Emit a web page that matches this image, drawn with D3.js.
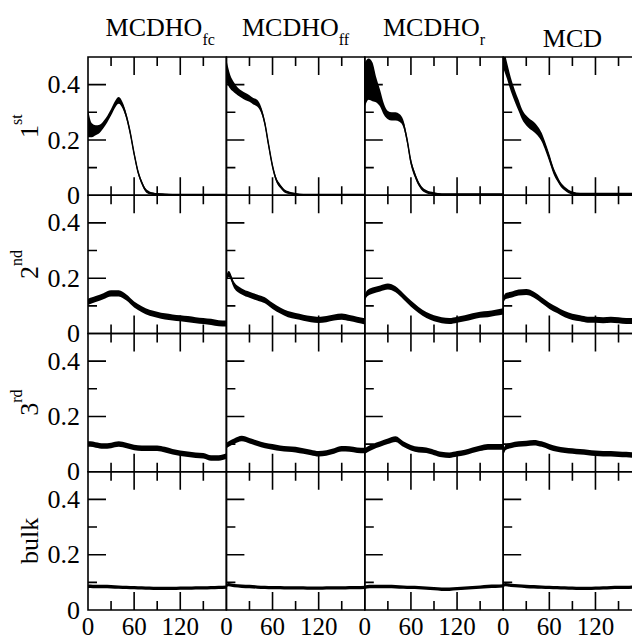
<!DOCTYPE html>
<html>
<head>
<meta charset="utf-8">
<script src="https://cdn.jsdelivr.net/npm/d3@7"></script>
<style>
  body { margin: 0; background: #fff; }
  text { font-family: "Liberation Serif", "DejaVu Serif", serif; fill: #000; }
</style>
</head>
<body>
<div id="chart"></div>
<script>
// Column titles (main text + subscript) and row labels (main + superscript)
const colTitles = [["MCDHO", "fc"], ["MCDHO", "ff"], ["MCDHO", "r"], ["MCD", ""]];
const rowLabels = [["1", "st"], ["2", "nd"], ["3", "rd"], ["bulk", ""]];

// time grids
const timeFine = [0, 5, 10, 15, 20, 25, 30, 35, 40, 45, 50, 55, 60, 65, 70, 75, 80, 90, 100, 110, 120, 130, 140, 150, 160, 170, 180];
const timeCoarse = [0, 3, 10, 20, 30, 40, 50, 60, 70, 80, 90, 100, 110, 120, 130, 140, 150, 160, 170, 180];

// 1st shell (fine grid) : centre values and half-width of the noise band
const first_fc  = [0.26, 0.235, 0.235, 0.24, 0.255, 0.275, 0.3, 0.328, 0.343, 0.325, 0.285, 0.225, 0.15, 0.085, 0.045, 0.018, 0.009, 0.004, 0.003, 0.002, 0.002, 0.002, 0.002, 0.002, 0.002, 0.002, 0.002];
const first_ff  = [0.45, 0.41, 0.39, 0.375, 0.365, 0.357, 0.35, 0.34, 0.333, 0.31, 0.26, 0.18, 0.105, 0.055, 0.033, 0.017, 0.01, 0.004, 0.002, 0.002, 0.002, 0.002, 0.002, 0.002, 0.002, 0.002, 0.002];
const first_r   = [0.4, 0.42, 0.41, 0.38, 0.35, 0.31, 0.29, 0.285, 0.285, 0.28, 0.26, 0.2, 0.12, 0.075, 0.042, 0.022, 0.013, 0.006, 0.003, 0.003, 0.003, 0.003, 0.003, 0.003, 0.003, 0.003, 0.003];
const first_mcd = [0.5, 0.45, 0.4, 0.36, 0.325, 0.29, 0.27, 0.257, 0.247, 0.232, 0.21, 0.175, 0.135, 0.092, 0.062, 0.038, 0.024, 0.008, 0.004, 0.004, 0.004, 0.004, 0.004, 0.004, 0.004, 0.004, 0.004];

const spread_fc  = [0.05, 0.025, 0.018, 0.015, 0.013, 0.012, 0.012, 0.012, 0.012, 0.011, 0.01, 0.01, 0.009, 0.008, 0.007, 0.006, 0.005, 0.004, 0.003, 0.003, 0.003, 0.003, 0.003, 0.003, 0.003, 0.003, 0.003];
const spread_ff  = [0.04, 0.025, 0.018, 0.014, 0.013, 0.013, 0.012, 0.012, 0.012, 0.011, 0.01, 0.01, 0.009, 0.008, 0.007, 0.006, 0.005, 0.004, 0.003, 0.003, 0.003, 0.003, 0.003, 0.003, 0.003, 0.003, 0.003];
const spread_r   = [0.08, 0.075, 0.07, 0.045, 0.03, 0.02, 0.015, 0.015, 0.015, 0.014, 0.013, 0.012, 0.012, 0.01, 0.008, 0.007, 0.006, 0.005, 0.004, 0.004, 0.004, 0.004, 0.004, 0.004, 0.004, 0.004, 0.004];
const spread_mcd = [0.04, 0.03, 0.025, 0.022, 0.02, 0.018, 0.018, 0.018, 0.018, 0.017, 0.016, 0.015, 0.014, 0.012, 0.01, 0.008, 0.007, 0.006, 0.005, 0.005, 0.005, 0.005, 0.005, 0.005, 0.005, 0.005, 0.005];

// 2nd shell (coarse grid)
const second_fc  = [0.115, 0.118, 0.125, 0.135, 0.145, 0.145, 0.13, 0.105, 0.088, 0.075, 0.068, 0.062, 0.058, 0.055, 0.052, 0.048, 0.045, 0.042, 0.037, 0.036];
const second_ff  = [0.2, 0.215, 0.175, 0.152, 0.14, 0.13, 0.12, 0.1, 0.083, 0.07, 0.063, 0.057, 0.052, 0.049, 0.052, 0.058, 0.061, 0.056, 0.05, 0.044];
const second_r   = [0.13, 0.145, 0.155, 0.163, 0.17, 0.16, 0.135, 0.108, 0.085, 0.067, 0.055, 0.048, 0.045, 0.05, 0.055, 0.062, 0.068, 0.07, 0.075, 0.08];
const second_mcd = [0.12, 0.135, 0.14, 0.148, 0.15, 0.14, 0.12, 0.1, 0.085, 0.07, 0.06, 0.055, 0.05, 0.05, 0.048, 0.05, 0.048, 0.045, 0.045, 0.045];

// 3rd shell
const third_fc  = [0.1, 0.1, 0.097, 0.093, 0.095, 0.1, 0.095, 0.088, 0.085, 0.085, 0.085, 0.08, 0.072, 0.067, 0.063, 0.06, 0.058, 0.05, 0.05, 0.057];
const third_ff  = [0.095, 0.1, 0.11, 0.12, 0.112, 0.103, 0.095, 0.09, 0.085, 0.082, 0.08, 0.075, 0.07, 0.065, 0.068, 0.075, 0.083, 0.082, 0.078, 0.077];
const third_r   = [0.075, 0.08, 0.09, 0.1, 0.11, 0.118, 0.1, 0.087, 0.08, 0.078, 0.07, 0.062, 0.06, 0.065, 0.07, 0.078, 0.085, 0.09, 0.09, 0.09];
const third_mcd = [0.068, 0.088, 0.095, 0.1, 0.102, 0.105, 0.1, 0.09, 0.082, 0.078, 0.075, 0.072, 0.07, 0.067, 0.065, 0.065, 0.063, 0.062, 0.06, 0.06];

// bulk
const bulk_fc  = [0.085, 0.086, 0.085, 0.085, 0.084, 0.083, 0.082, 0.081, 0.08, 0.079, 0.078, 0.078, 0.078, 0.079, 0.079, 0.08, 0.08, 0.081, 0.082, 0.083];
const bulk_ff  = [0.088, 0.092, 0.088, 0.086, 0.085, 0.083, 0.082, 0.081, 0.081, 0.08, 0.08, 0.08, 0.079, 0.079, 0.08, 0.08, 0.08, 0.081, 0.081, 0.082];
const bulk_r   = [0.082, 0.084, 0.085, 0.085, 0.085, 0.084, 0.083, 0.082, 0.081, 0.079, 0.077, 0.075, 0.075, 0.077, 0.079, 0.081, 0.083, 0.085, 0.086, 0.087];
const bulk_mcd = [0.088, 0.092, 0.089, 0.087, 0.085, 0.084, 0.083, 0.082, 0.081, 0.08, 0.079, 0.078, 0.078, 0.079, 0.08, 0.081, 0.082, 0.082, 0.083, 0.083];

// noise half-width for the rows that use one value
const rowSpread = [null, 0.011, 0.01, 0.006];

const yTicks = [0, 0.2, 0.4], yMinor = [0.1, 0.3];
const xTicks = [0, 60, 120, 180], xMinor = [30, 90, 150];
const xLabels = [0, 60, 120];

// build panel table
const rowSeries = [
  [first_fc, first_ff, first_r, first_mcd],
  [second_fc, second_ff, second_r, second_mcd],
  [third_fc, third_ff, third_r, third_mcd],
  [bulk_fc, bulk_ff, bulk_r, bulk_mcd]
];
const firstSpread = [spread_fc, spread_ff, spread_r, spread_mcd];

const panels = [];
rowSeries.forEach((row, r) => {
  row.forEach((vals, c) => {
    const t = r === 0 ? timeFine : timeCoarse;
    panels.push({
      r, c,
      pts: vals.map((v, i) => ({ t: t[i], v, s: r === 0 ? firstSpread[c][i] : rowSpread[r] }))
    });
  });
});

// layout
const width = 632, height = 637;
const marginLeft = 88, marginTop = 57, pw = 138.4, ph = 138.25;
const majorLen = 18, minorLen = 9;

const svg = d3.select("#chart").append("svg")
  .attr("width", width).attr("height", height);

const defs = svg.append("defs");

panels.forEach(p => {
  const x0 = marginLeft + p.c * pw, y0 = marginTop + p.r * ph;
  const x = d3.scaleLinear().domain([0, 180]).range([x0, x0 + pw]);
  const y = d3.scaleLinear().domain([0, 0.5]).range([y0 + ph, y0]);
  const id = `clip-${p.r}-${p.c}`;
  defs.append("clipPath").attr("id", id)
    .append("rect").attr("x", x0).attr("y", y0).attr("width", pw).attr("height", ph);

  const g = svg.append("g");
  const plot = g.append("g").attr("clip-path", `url(#${id})`);

  // noise band
  plot.append("path")
    .datum(p.pts)
    .attr("fill", "#000")
    .attr("d", d3.area()
      .x(d => x(d.t))
      .y0(d => y(d.v - d.s))
      .y1(d => y(d.v + d.s))
      .curve(d3.curveMonotoneX));
  // centre line
  plot.append("path")
    .datum(p.pts)
    .attr("fill", "none")
    .attr("stroke", "#000")
    .attr("stroke-width", 1.5)
    .attr("d", d3.line().x(d => x(d.t)).y(d => y(d.v)).curve(d3.curveMonotoneX));

  // frame and inward ticks as one stroked path
  const fp = d3.path();
  fp.rect(x0, y0, pw, ph);
  xTicks.forEach(v => {
    fp.moveTo(x(v), y(0)); fp.lineTo(x(v), y(0) - majorLen);
    fp.moveTo(x(v), y0); fp.lineTo(x(v), y0 + majorLen);
  });
  xMinor.forEach(v => {
    fp.moveTo(x(v), y(0)); fp.lineTo(x(v), y(0) - minorLen);
    fp.moveTo(x(v), y0); fp.lineTo(x(v), y0 + minorLen);
  });
  yTicks.forEach(v => { fp.moveTo(x0, y(v)); fp.lineTo(x0 + majorLen, y(v)); });
  yMinor.forEach(v => { fp.moveTo(x0, y(v)); fp.lineTo(x0 + minorLen, y(v)); });
  g.append("path")
    .attr("d", fp.toString())
    .attr("fill", "none")
    .attr("stroke", "#000")
    .attr("stroke-width", 1.6);

  // tick labels
  if (p.c === 0) {
    g.selectAll(".yl").data(yTicks).join("text").attr("class", "yl")
      .attr("x", x0 - 8).attr("y", d => y(d)).attr("dy", "0.33em")
      .attr("text-anchor", "end").style("font-size", "26px")
      .text(d => d === 0 ? "0" : d3.format(".1f")(d));
  }
  if (p.r === 3) {
    g.selectAll(".xl").data(xLabels).join("text").attr("class", "xl")
      .attr("x", d => x(d)).attr("y", y(0) + 24.5)
      .attr("text-anchor", "middle").style("font-size", "25px")
      .text(d => d);
  }
});

// column titles
colTitles.forEach(([main, sub], c) => {
  const cx = marginLeft + (c + 0.5) * pw;
  const t = svg.append("text")
    .attr("x", cx + (c === 0 ? 3 : 0)).attr("y", sub ? 36 : 47)
    .attr("text-anchor", "middle")
    .style("font-size", "26px");
  t.append("tspan").text(main);
  if (sub) t.append("tspan").attr("dy", 9).style("font-size", "16px").text(sub);
});

// row labels
rowLabels.forEach(([main, sup], r) => {
  const cy = marginTop + (r + 0.5) * ph;
  const t = svg.append("text")
    .attr("transform", `translate(38,${cy}) rotate(-90)`)
    .attr("text-anchor", "middle")
    .style("font-size", "26px");
  t.append("tspan").text(main);
  if (sup) t.append("tspan").attr("dy", -16).style("font-size", "16px").text(sup);
});
</script>
</body>
</html>
